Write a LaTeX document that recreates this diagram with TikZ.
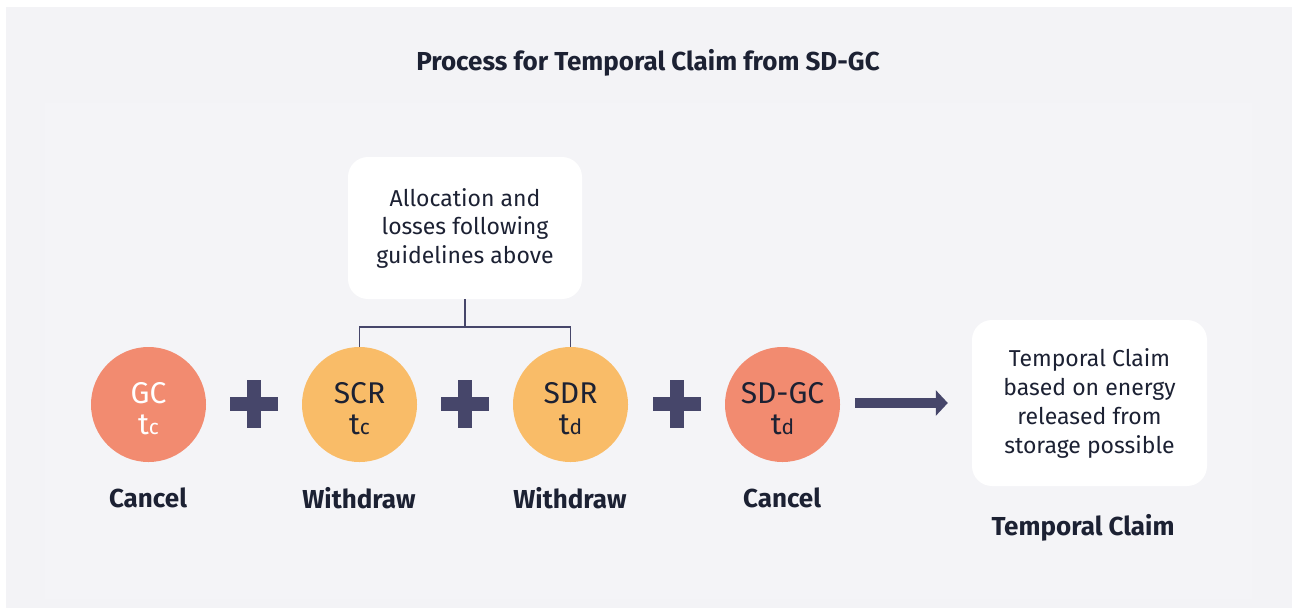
\documentclass[tikz,border=0pt]{standalone}
\usepackage{fontspec}
\setmainfont{Fira Sans}
\usetikzlibrary{arrows.meta}

\definecolor{paper}{HTML}{F3F3F6}
\definecolor{panel}{HTML}{F4F4F7}
\definecolor{ink}{HTML}{1C2133}
\definecolor{salmon}{HTML}{F28B70}
\definecolor{amber}{HTML}{F9BC68}
\definecolor{navy}{HTML}{46466A}

\begin{document}
\begin{tikzpicture}[x=1pt,y=-1pt,
  note/.style={fill=white, rounded corners=20pt, align=center, text=ink,
    inner sep=0pt, font=\fontsize{23}{28.5}\selectfont},
  stage/.style={circle, minimum size=115pt, inner sep=0pt},
  stagetext/.style={inner sep=0pt, align=center,
    font=\fontsize{30}{31}\selectfont},
  caption/.style={font=\fontsize{26}{28}\selectfont\bfseries, text=ink},
  link/.style={draw=navy, line width=1.3pt},
  plus/.pic={\fill[navy] (-24,-7) rectangle (24,7);
             \fill[navy] (-7,-24) rectangle (7,24);}
]
\useasboundingbox (0,0) rectangle (1292,608);
% backdrop
\fill[white] (0,0) rectangle (1292,608);
\fill[paper] (6,7) rectangle (1292,608);
\fill[panel] (45,103) rectangle (1252,599);

% title
\node[font=\fontsize{26}{28}\selectfont\bfseries, text=ink] (title) at (648,63)
  {Process for Temporal Claim from SD-GC};

% note box above the storage steps
\node[note, minimum width=234pt, minimum height=142pt] (alloc) at (465,228)
  {Allocation and\\losses following\\guidelines above};

% certificate steps
\newcommand{\sub}[1]{{\fontsize{21}{21}\selectfont #1}}
\node[stage, fill=salmon] (gc)   at (148.5,404.5) {};
\node[stage, fill=amber]  (scr)  at (359.5,404.5) {};
\node[stage, fill=amber]  (sdr)  at (570.5,404.5) {};
\node[stage, fill=salmon] (sdgc) at (782.5,404.5) {};
\node[stagetext, text=white] (gct)   at ([yshift=-4pt]gc.center)   {GC\\t\sub{c}};
\node[stagetext, text=ink]   (scrt)  at ([yshift=-4pt]scr.center)  {SCR\\t\sub{c}};
\node[stagetext, text=ink]   (sdrt)  at ([yshift=-4pt]sdr.center)  {SDR\\t\sub{d}};
\node[stagetext, text=ink]   (sdgct) at ([yshift=-4pt]sdgc.center) {SD-GC\\t\sub{d}};

\pic at (254,404) {plus};
\pic at (465,404) {plus};
\pic at (677,404) {plus};

% step actions
\node[caption] (a1) at (148,498) {Cancel};
\node[caption] (a2) at (359,498) {Withdraw};
\node[caption] (a3) at (570,498) {Withdraw};
\node[caption] (a4) at (782,498) {Cancel};

% result
\node[note, minimum width=235pt, minimum height=166pt,
  font=\fontsize{23}{29}\selectfont] (claim) at (1089.5,403)
  {Temporal Claim\\based on energy\\released from\\storage possible};
\node[caption] (a5) at (1083,528) {Temporal Claim};

% bracket from the note to SCR and SDR
\coordinate (fork) at (465,327);
\draw[link] (alloc.south) -- (fork);
\draw[link] (scr.north) |- (fork) -| (sdr.north);

% arrow to the result
\draw[navy, line width=10pt, -{Triangle[length=12pt,width=25pt]}]
  ([xshift=15pt]sdgc.east |- 0,403) -- ([xshift=-24pt]claim.west);
\end{tikzpicture}
\end{document}
